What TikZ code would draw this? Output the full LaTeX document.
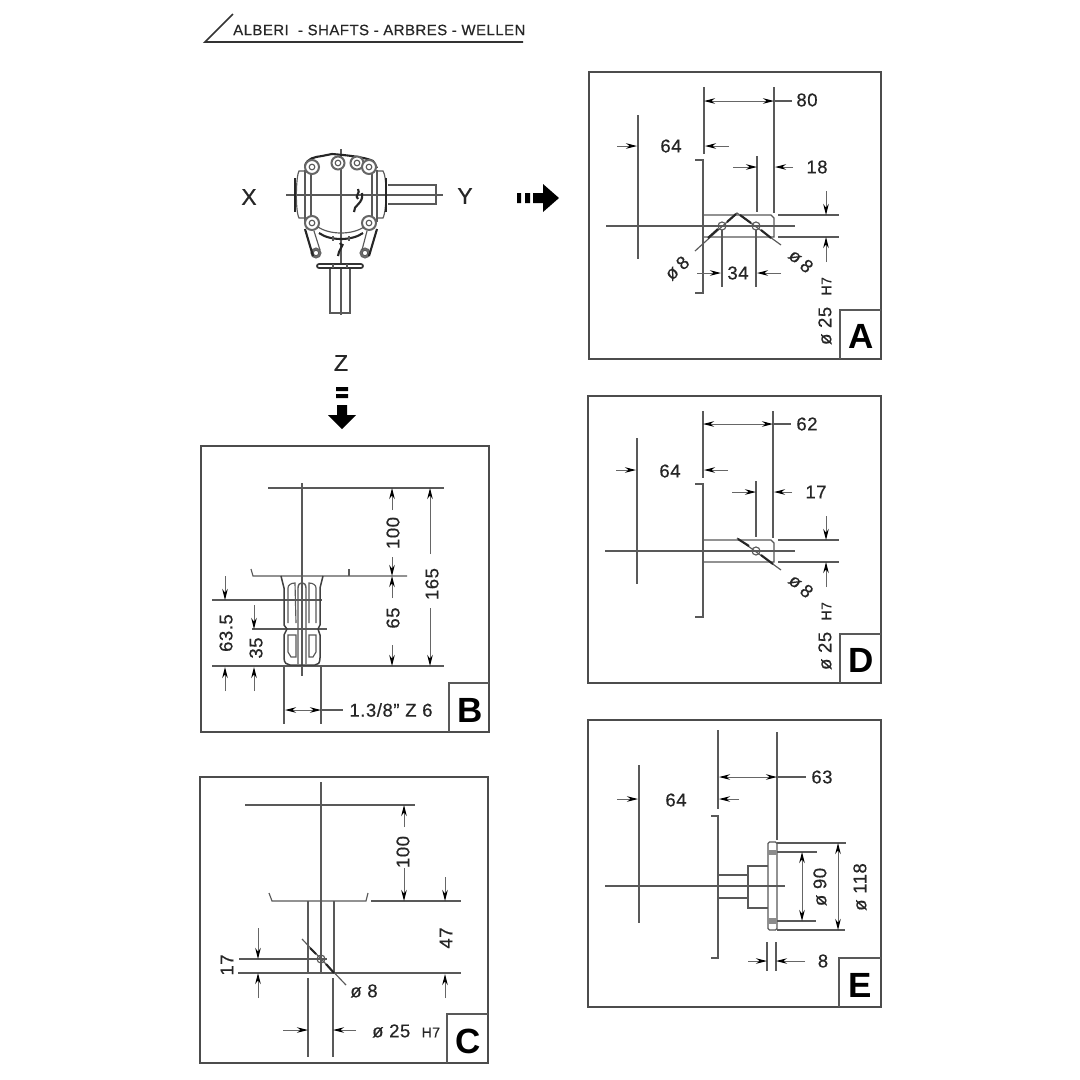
\documentclass[tikz,border=0pt]{standalone}
\usepackage{fontspec}
\setmainfont{Liberation Sans}[UprightFeatures={FakeBold=0.5,LetterSpace=3}]
\usetikzlibrary{arrows.meta}
\tikzset{
  part/.style={line width=1.15pt, draw=black!65},
  heavy/.style={line width=2.1pt, draw=black!85},
  dim/.style={line width=1pt, draw=black!60, -{Stealth[length=11pt,width=5.5pt,black]}},
  both/.style={line width=1pt, draw=black!60, {Stealth[length=11pt,width=5.5pt,black]}-{Stealth[length=11pt,width=5.5pt,black]}},
  frame/.style={line width=1.3pt, draw=black!70},
  val/.style={font=\fontsize{18.5}{18.5}\selectfont, text=black!85, inner sep=0pt},
  tag/.style={font=\fontsize{35}{35}\selectfont\bfseries, text=black, inner sep=0pt},
  axis/.style={font=\fontsize{23}{23}\selectfont, text=black!85, inner sep=0pt},
}
\begin{document}
\begin{tikzpicture}[x=1pt, y=-1pt]
  \fill[white] (0,0) rectangle (1080,1080);
  \useasboundingbox (0,0) rectangle (1080,1080);

  % Title
  \draw[line width=1.7pt, black!80] (233,14) -- (205,42) -- (523,42);
  \node[anchor=west, inner sep=0pt, text=black!85, font=\fontsize{15}{15}\selectfont] (title) at (233,30) {ALBERI\ \ - SHAFTS - ARBRES - WELLEN};

  % Gearbox: centre lines and shafts
  \draw[part] (341,149) -- (341,315);
  \draw[part] (286,195) -- (443,195);
  \draw[part] (388,185) -- (436,185) -- (436,204) -- (388,204);
  \draw[part] (330,268) -- (330,313) -- (350,313) -- (350,268);
  % Gearbox: side caps
  \draw[part] (305,171) -- (299,171) .. controls (296,176) and (295,210) .. (299,218) -- (305,218);
  \draw[heavy] (295,178) -- (295,212);
  \draw[part] (377,171) -- (383,171) .. controls (387,176) and (387,210) .. (383,218) -- (377,218);
  \draw[heavy] (386,178) -- (386,212);
  % Gearbox: body
  \draw[heavy] (305,166) .. controls (307,158) and (315,157) .. (322,156) -- (332,154) .. controls (345,155) and (365,157) .. (373,161) -- (377,168);
  \draw[part] (305,170) -- (305,222);
  \draw[part] (311,172) -- (311,216);
  \draw[part] (372,172) -- (372,216);
  \draw[part] (377,170) -- (377,222);
  % Gearbox: bolts
  \foreach \bx/\by/\br in {312/167/7, 338/163/6.5, 357/163/6.5, 369/167/7, 312/223/7, 369/223/7, 316/253/4.5, 365/253/4.5} {
    \draw[line width=2pt, black!60, fill=white] (\bx,\by) circle (\br);
    \draw[part] (\bx,\by) circle (2.8);
  }
  % Gearbox: lower housing
  \draw[part] (318,227) .. controls (330,235) and (352,235) .. (364,227);
  \draw[heavy] (319,233) .. controls (330,241) and (352,241) .. (363,233);
  \draw[part] (333,236) -- (333,241);
  \draw[part] (349,236) -- (349,241);
  \draw[heavy] (305,229) -- (313,256);
  \draw[part] (314,231) -- (320,250);
  \draw[heavy] (377,229) -- (369,256);
  \draw[part] (367,231) -- (362,250);
  \draw[heavy] (358,199) .. controls (354,196) and (361,193) .. (358,189) (354,212) .. controls (353,205) and (364,204) .. (362,193);
  \draw[heavy] (340,243) .. controls (345,246) and (338,250) .. (338,256) (343,244) -- (339,252);
  \draw[line width=1.7pt, black!80, fill=white, rounded corners=2pt] (317,264) rectangle (363,268);
  \draw[part] (333,264) -- (333,268) (347,264) -- (347,268);

  % Labels round the gearbox
  \node[axis] (axisX) at (249,197) {X};
  \node[axis] (axisY) at (465,196) {Y};
  \node[axis] (axisZ) at (341,363) {Z};

  % View arrows
  \fill[black] (517,193) rectangle (521,203) (525,193) rectangle (530,203);
  \fill[black] (533,193) -- (543,193) -- (543,184) -- (559,198) -- (543,212) -- (543,203) -- (533,203) -- cycle;
  \fill[black] (336,387) rectangle (348,391) (336,394) rectangle (348,398);
  \fill[black] (337,405) -- (337,415) -- (328,415) -- (342,429) -- (356,415) -- (347,415) -- (347,405) -- cycle;

  % Panel frames
  \foreach \fx/\fy/\gx/\gy/\bx/\by in {589/72/881/359/840/310, 588/396/881/683/840/634, 588/720/881/1007/839/958, 201/446/489/732/449/683, 200/777/488/1063/447/1014} {
    \draw[frame] (\fx,\fy) rectangle (\gx,\gy);
    \draw[part] (\bx,\gy) -- (\bx,\by) -- (\gx,\by);
  }

  % Panel A
  \node[tag] (tagA) at (861,336) {A};
  \draw[part] (638,115) -- (638,259);
  \draw[part] (704,87) -- (704,154);
  \draw[part] (774,87) -- (774,213);
  \draw[part] (757,156) -- (757,212);
  \draw[part] (695,160) -- (703,160) -- (703,293) -- (695,293);
  \draw[part] (704,215) -- (771,215) -- (774,218) -- (774,237) -- (704,237);
  \draw[part] (606,226) -- (795,226);
  \draw[part] (778,215) -- (839,215);
  \draw[part] (778,237) -- (839,237);
  \draw[part] (722,230) -- (722,287);
  \draw[part] (756,230) -- (756,287);
  \draw[part] (722,226) circle (4);
  \draw[part] (756,226) circle (4);
  \draw[part] (695,251) -- (737,213) -- (781,245);
  \draw[heavy] (708,238) -- (718,229) (727,222) -- (736,214) (740,215) -- (751,223) (761,230) -- (771,238);
  \node[val] (lenA) at (807,100) {80};
  \draw[part] (774,101) -- (792,101);
  \draw[both] (704,101) -- (774,101);
  \draw[dim] (617,146) -- (637,146);
  \draw[dim] (729,146) -- (705,146);
  \node[val] (gapA) at (671,146) {64};
  \node[val] (offA) at (817,167) {18};
  \draw[dim] (733,167) -- (757,167);
  \draw[dim] (793,167) -- (775,167);
  \draw[dim] (826,191) -- (826,215);
  \draw[dim] (826,262) -- (826,237);
  \draw[dim] (697,273) -- (721,273);
  \draw[dim] (781,273) -- (757,273);
  \node[val] (pitchA) at (738,273) {34};
  \node[val, rotate=42] (holeA) at (677,268) {ø\hspace{4pt}8};
  \node[val, rotate=-42] (holeB) at (801,261) {ø\hspace{4pt}8};
  \node[val, rotate=90] (boreA) at (825,311) {ø 25\ \ \fontsize{14}{14}\selectfont H7};

  % Panel D
  \node[tag] (tagD) at (861,660) {D};
  \draw[part] (637,438) -- (637,584);
  \draw[part] (703,411) -- (703,478);
  \draw[part] (773,411) -- (773,538);
  \draw[part] (756,481) -- (756,537);
  \draw[part] (695,484) -- (703,484) -- (703,617) -- (695,617);
  \draw[part] (703,540) -- (771,540) -- (774,543) -- (774,562) -- (703,562);
  \draw[part] (605,551) -- (795,551);
  \draw[part] (778,540) -- (839,540);
  \draw[part] (778,562) -- (839,562);
  \draw[part] (756,551) circle (4);
  \draw[part] (737,538) -- (781,570);
  \draw[heavy] (738,539) -- (749,546) (761,555) -- (773,564);
  \node[val] (lenD) at (807,424) {62};
  \draw[part] (773,424) -- (791,424);
  \draw[both] (703,424) -- (773,424);
  \draw[dim] (616,470) -- (636,470);
  \draw[dim] (728,470) -- (704,470);
  \node[val] (gapD) at (670,471) {64};
  \node[val] (offD) at (816,492) {17};
  \draw[dim] (732,492) -- (756,492);
  \draw[dim] (792,492) -- (774,492);
  \draw[dim] (826,516) -- (826,540);
  \draw[dim] (826,587) -- (826,562);
  \node[val, rotate=-42] (holeD) at (801,586) {ø\hspace{4pt}8};
  \node[val, rotate=90] (boreD) at (825,636) {ø 25\ \ \fontsize{14}{14}\selectfont H7};

  % Panel E
  \node[tag] (tagE) at (860,985) {E};
  \draw[part] (639,765) -- (639,923);
  \draw[part] (718,730) -- (718,809);
  \draw[part] (777,732) -- (777,840);
  \draw[part] (711,816) -- (718,816) -- (718,958) -- (711,958);
  \draw[part] (605,886) -- (785,886);
  \draw[part] (718,875) -- (748,875);
  \draw[part] (718,898) -- (748,898);
  \draw[part] (768,866) -- (748,866) -- (748,908) -- (768,908);
  \draw[part, rounded corners=1.5pt] (768,842) rectangle (777,930);
  \fill[black!45] (768,850) rectangle (777,855);
  \fill[black!45] (768,918) rectangle (777,924);
  \draw[part] (777,843) -- (846,843);
  \draw[part] (777,930) -- (845,930);
  \draw[part] (777,852) -- (817,852);
  \draw[part] (777,921) -- (816,921);
  \draw[part] (767,942) -- (767,971);
  \draw[part] (776,942) -- (776,971);
  \node[val] (lenE) at (822,777) {63};
  \draw[part] (777,777) -- (806,777);
  \draw[both] (719,777) -- (777,777);
  \draw[dim] (617,799) -- (638,799);
  \draw[dim] (739,799) -- (719,799);
  \node[val] (gapE) at (676,800) {64};
  \draw[both] (802,852) -- (802,921);
  \draw[both] (838,843) -- (838,930);
  \node[val, rotate=90] (holeE) at (820,887) {ø 90};
  \node[val, rotate=90] (bodyE) at (860,887) {ø 118};
  \draw[dim] (748,961) -- (767,961);
  \draw[dim] (805,961) -- (776,961);
  \node[val] (wallE) at (823,961) {8};

  % Panel B
  \node[tag] (tagB) at (470,710) {B};
  \draw[part] (268,488) -- (444,488);
  \draw[part] (302,483) -- (302,676);
  \draw[part] (251,569) -- (253,576) -- (407,576);
  \draw[part] (349,569) -- (349,576);
  \draw[part] (212,666) -- (444,666);
  \draw[part] (212,600) -- (322,600);
  \draw[part] (252,629) -- (327,629);
  % Splined end
  \draw[line width=1.5pt, black!75] (281,576) -- (284,588) -- (284,625) -- (287,629) -- (284,635) -- (284,658) .. controls (284,663) and (287,665) .. (290,665) -- (315,665) .. controls (318,665) and (320,663) .. (320,658) -- (320,635) -- (318,629) -- (320,625) -- (320,588) -- (323,576);
  \draw[part] (288,623) -- (288,588) .. controls (288,585) and (291,583) .. (295,583) -- (296,623);
  \draw[part] (309,623) -- (309,583) .. controls (313,583) and (316,585) .. (316,588) -- (316,623);
  \draw[part] (288,635) -- (296,635) -- (296,657) -- (291,657) -- (288,652) -- cycle;
  \draw[part] (309,635) -- (316,635) -- (316,652) -- (313,657) -- (309,657) -- cycle;
  \draw[line width=1.4pt, black!65] (298,664) -- (298,588) .. controls (298,581) and (306,581) .. (306,588) -- (306,664);
  \node[val, rotate=90] (lenB) at (393,533) {100};
  \draw[dim] (392,510) -- (392,488);
  \draw[dim] (392,557) -- (392,576);
  \node[val, rotate=90] (restB) at (393,618) {65};
  \draw[dim] (392,598) -- (392,576);
  \draw[dim] (392,645) -- (392,666);
  \node[val, rotate=90] (fullB) at (432,584) {165};
  \draw[dim] (430,554) -- (430,488);
  \draw[dim] (430,608) -- (430,666);
  \node[val, rotate=90] (splineB) at (226,633) {63.5};
  \draw[dim] (225,576) -- (225,600);
  \draw[dim] (225,691) -- (225,667);
  \node[val, rotate=90] (grooveB) at (256,648) {35};
  \draw[dim] (254,605) -- (254,629);
  \draw[dim] (254,691) -- (254,667);
  \draw[part] (284,667) -- (284,724);
  \draw[part] (321,667) -- (321,724);
  \draw[part] (321,710) -- (343,710);
  \draw[both] (285,710) -- (321,710);
  \node[val] (sizeB) at (391,710) {1.3/8'' Z 6};

  % Panel C
  \node[tag] (tagC) at (468,1041) {C};
  \draw[part] (245,805) -- (415,805);
  \draw[part] (321,782) -- (321,974);
  \draw[part] (269,893) -- (272,901) -- (366,901) -- (368,893);
  \draw[part] (371,901) -- (461,901);
  \draw[part] (308,901) -- (308,974);
  \draw[part] (334,901) -- (334,974);
  \draw[part] (239,959) -- (327,959);
  \draw[part] (238,973) -- (461,973);
  \draw[part] (321,959) circle (4);
  \draw[part] (302,939) -- (346,985);
  \draw[heavy] (310,948) -- (316,954) (326,964) -- (334,973);
  \draw[part] (308,978) -- (308,1057);
  \draw[part] (333,978) -- (333,1057);
  \node[val, rotate=90] (lenC) at (403,852) {100};
  \draw[dim] (404,827) -- (404,805);
  \draw[dim] (404,868) -- (404,901);
  \node[val, rotate=90] (restC) at (446,938) {47};
  \draw[dim] (445,877) -- (445,901);
  \draw[dim] (445,998) -- (445,974);
  \node[val, rotate=90] (offC) at (227,965) {17};
  \draw[dim] (258,928) -- (258,959);
  \draw[dim] (258,998) -- (258,973);
  \draw[dim] (283,1030) -- (308,1030);
  \draw[dim] (356,1030) -- (333,1030);
  \node[val] (holeC) at (364,991) {ø 8};
  \node[val, anchor=west] (boreC) at (372,1031) {ø 25\ \ \fontsize{14}{14}\selectfont H7};
\end{tikzpicture}
\end{document}
